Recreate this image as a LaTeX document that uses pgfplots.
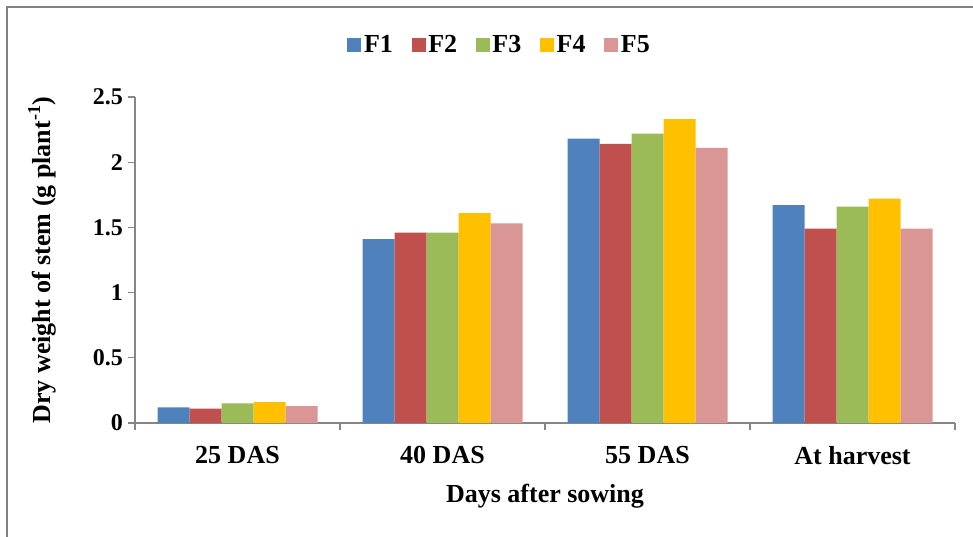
\documentclass[border=0pt]{standalone}
\usepackage{pgfplots}
\pgfplotsset{compat=1.18}
\usepackage{fontspec}
\setmainfont{Liberation Serif}

\definecolor{cF1}{RGB}{79,129,189}
\definecolor{cF2}{RGB}{192,80,77}
\definecolor{cF3}{RGB}{155,187,89}
\definecolor{cF4}{RGB}{255,192,0}
\definecolor{cF5}{RGB}{217,150,148}
\definecolor{axisgray}{RGB}{134,134,134}
\definecolor{framegray}{RGB}{128,128,128}

\begin{document}
\begin{tikzpicture}[font=\bfseries]
\path[use as bounding box] (0,0) rectangle (729.75pt,-402pt);
% chart frame
\draw[draw=framegray, line width=1.1pt] (5.25pt,-410pt) -- (5.25pt,-5.25pt) -- (740pt,-5.25pt);
\begin{axis}[
  at={(101.25pt,-317.25pt)}, anchor=south west,
  scale only axis, width=615pt, height=244.5pt,
  xmin=-0.5, xmax=3.5, ymin=0, ymax=2.5,
  ybar=0pt, bar width=24pt,
  axis x line*=bottom, axis y line*=left,
  axis line style={draw=axisgray, line width=0.9pt},
  xtick={-0.5,0.5,1.5,2.5,3.5},
  xticklabels={25 DAS,40 DAS,55 DAS,At harvest},
  x tick label as interval,
  ytick={0,0.5,1,1.5,2,2.5},
  tick align=outside, major tick length=5.5pt,
  tick style={draw=axisgray, line width=0.9pt},
  xticklabel style={font=\fontsize{19.5}{22}\selectfont\bfseries, yshift=-8.5pt},
  yticklabel style={font=\fontsize{18}{21}\selectfont\bfseries},
  /pgf/number format/assume math mode=true,
  xlabel={Days after sowing},
  ylabel={Dry weight of stem (g plant\textsuperscript{-1})},
  label style={font=\fontsize{19.5}{22}\selectfont\bfseries},
  xlabel style={at={(axis description cs:0.5,-0.2240)}, anchor=center},
  ylabel style={at={(axis description cs:-0.1134,0.5)}, anchor=center, rotate=0},
  legend columns=5,
  legend style={draw=none, fill=none, at={(axis description cs:0.445,1.1595)}, anchor=center,
    font=\fontsize{19.5}{22}\selectfont\bfseries,
    /tikz/every even column/.append style={column sep=12pt}},
  legend image code/.code={\fill[#1] (0pt,-5.25pt) rectangle (10.5pt,5.25pt);},
]
\addplot[fill=cF1, draw=none] coordinates {(0,0.12) (1,1.41) (2,2.18) (3,1.67)};
\addplot[fill=cF2, draw=none] coordinates {(0,0.11) (1,1.46) (2,2.14) (3,1.49)};
\addplot[fill=cF3, draw=none] coordinates {(0,0.15) (1,1.46) (2,2.22) (3,1.66)};
\addplot[fill=cF4, draw=none] coordinates {(0,0.16) (1,1.61) (2,2.33) (3,1.72)};
\addplot[fill=cF5, draw=none] coordinates {(0,0.13) (1,1.53) (2,2.11) (3,1.49)};
\legend{F1,F2,F3,F4,F5}
\end{axis}
\end{tikzpicture}
\end{document}
